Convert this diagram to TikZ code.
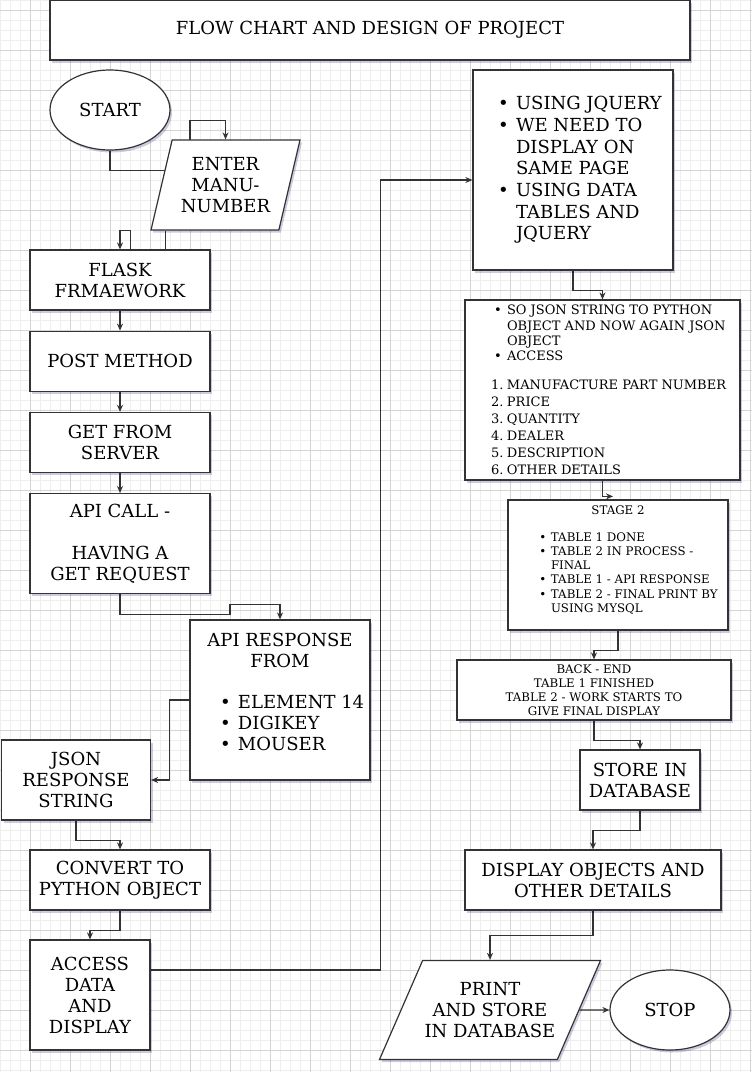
\documentclass[tikz,border=0pt]{standalone}
\usepackage{fontspec}
\setmainfont{DejaVu Serif}
\usepackage{tikz}
\usetikzlibrary{calc}
\usetikzlibrary{arrows.meta}
\usetikzlibrary{positioning}
\usetikzlibrary{shapes.geometric}
\usetikzlibrary{shadows}
\definecolor{chartline}{HTML}{333333}
\definecolor{gridminor}{HTML}{EEEEEE}
\definecolor{gridmajor}{HTML}{D4D4D4}
\pgfdeclarelayer{gridlayer}
\pgfdeclarelayer{edgelayer}
\pgfsetlayers{gridlayer,edgelayer,main}
\newcommand\chartfont{\fontsize{18}{21}\selectfont}
\newcommand\chartfontsmall{\fontsize{13}{17}\selectfont}
\newcommand\chartfonttiny{\fontsize{11.8}{14.2}\selectfont}
\pgfkeys{tikz/chartnode/.style={draw=chartline,line width=1.2pt,fill=white,align=center,inner sep=2pt,font=\chartfont,drop shadow={shadow xshift=2pt,shadow yshift=-2.5pt,opacity=.2,fill=black!60!blue}}}
\pgfkeys{tikz/procbox/.style 2 args={chartnode,rectangle,minimum width=#1,minimum height=#2}}
\pgfkeys{tikz/termnode/.style={chartnode,ellipse,inner sep=0pt,minimum width=120pt,minimum height=80pt}}
\pgfkeys{tikz/iobox/.style n args={4}{chartnode,trapezium,trapezium left angle=#1,trapezium right angle=#2,trapezium stretches body,minimum width=#3,minimum height=#4}}
\pgfkeys{tikz/flowline/.style={draw=chartline,line width=1.2pt,->}}
% list lines: block width, indent, text
\newcommand*\listline[3]{\makebox[#1][l]{\makebox[#2][r]{\textbullet\hspace{.4em}}#3}}
\newcommand*\listmore[3]{\makebox[#1][l]{\hspace*{#2}#3}}
\newcommand*\listnum[4]{\makebox[#1][l]{\makebox[#2][l]{#3}#4}}

\begin{document}
\begin{tikzpicture}[x=1pt,y=-1pt,>={Stealth[length=7pt,width=6pt]}]
    \useasboundingbox (0,0) rectangle (752,1072);
    \begin{pgfonlayer}{gridlayer}
        \fill[white] (0,0) rectangle (752,1072);
        \foreach \gx in {0,10,...,750} \draw[gridminor,line width=.6pt] (\gx,0) -- (\gx,1072);
        \foreach \gy in {0,10,...,1070} \draw[gridminor,line width=.6pt] (0,\gy) -- (752,\gy);
        \foreach \gx in {30,70,...,750} \draw[gridmajor,line width=.7pt] (\gx,0) -- (\gx,1072);
        \foreach \gy in {10,50,...,1050} \draw[gridmajor,line width=.7pt] (0,\gy) -- (752,\gy);
    \end{pgfonlayer}

    \node[procbox={640pt}{60pt}] (title) at (370,30) {FLOW CHART AND DESIGN OF PROJECT};
    \node[termnode] (start) at (110,110) {START};
    \node[iobox={70.4}{109.6}{149pt}{90pt}] (enter) at (225.5,185) {ENTER\\MANU-\\NUMBER};
    \node[procbox={180pt}{60pt}] (flask) at (120,280) {FLASK\\FRMAEWORK};
    \node[procbox={180pt}{60pt},below=20pt of flask] (post) {POST METHOD};
    \node[procbox={180pt}{60pt},below=20pt of post] (getsrv) {GET FROM\\SERVER};
    \node[procbox={180pt}{100pt},below=20pt of getsrv] (apicall) {API CALL -\\[21pt]HAVING A\\GET REQUEST};
    \node[procbox={180pt}{160pt}] (apiresp) at (280,700) {API RESPONSE\\FROM\\[20pt]
        \listline{116pt}{16pt}{ELEMENT 14}\\
        \listline{116pt}{16pt}{DIGIKEY}\\
        \listline{116pt}{16pt}{MOUSER}\\[-5pt]\mbox{}};
    \node[procbox={149pt}{80pt}] (json) at (76,780) {JSON\\RESPONSE\\STRING};
    \node[procbox={180pt}{60pt}] (convert) at (120,880) {CONVERT TO\\PYTHON OBJECT};
    \node[procbox={120pt}{110pt}] (access) at (90,995) {ACCESS\\DATA\\AND\\DISPLAY};

    \node[procbox={200pt}{200pt},font=\fontsize{18}{21.7}\selectfont] (jquery) at (573,170) {%
        \listline{150pt}{18pt}{USING JQUERY}\\
        \listline{150pt}{18pt}{WE NEED TO}\\
        \listmore{150pt}{18pt}{DISPLAY ON}\\
        \listmore{150pt}{18pt}{SAME PAGE}\\
        \listline{150pt}{18pt}{USING DATA}\\
        \listmore{150pt}{18pt}{TABLES AND}\\
        \listmore{150pt}{18pt}{JQUERY}};
    \node[procbox={275pt}{180pt},font=\chartfontsmall] (sojson) at (602.5,390) {%
        \listline{223pt}{16pt}{SO JSON STRING TO PYTHON}\\[-1.7pt]
        \listmore{223pt}{16pt}{OBJECT AND NOW AGAIN JSON}\\[-1.7pt]
        \listmore{223pt}{16pt}{OBJECT}\\[-1.7pt]
        \listline{223pt}{16pt}{ACCESS}\\[12pt]
        \listnum{223pt}{16pt}{1.}{MANUFACTURE PART NUMBER}\\
        \listnum{223pt}{16pt}{2.}{PRICE}\\
        \listnum{223pt}{16pt}{3.}{QUANTITY}\\
        \listnum{223pt}{16pt}{4.}{DEALER}\\
        \listnum{223pt}{16pt}{5.}{DESCRIPTION}\\
        \listnum{223pt}{16pt}{6.}{OTHER DETAILS}};
    \node[procbox={220pt}{130pt},font=\chartfonttiny] (stage2) at (618,565) {STAGE 2\\[13pt]
        \listline{158pt}{12pt}{TABLE 1 DONE}\\
        \listline{158pt}{12pt}{TABLE 2 IN PROCESS -}\\
        \listmore{158pt}{12pt}{FINAL}\\
        \listline{158pt}{12pt}{TABLE 1 - API RESPONSE}\\
        \listline{158pt}{12pt}{TABLE 2 - FINAL PRINT BY}\\
        \listmore{158pt}{12pt}{USING MYSQL}\\[-2pt]\mbox{}};
    \node[procbox={274pt}{60pt},font=\chartfonttiny] (backend) at (594,690) {BACK - END\\TABLE 1 FINISHED\\TABLE 2 - WORK STARTS TO\\GIVE FINAL DISPLAY};
    \node[procbox={120pt}{60pt}] (store) at (640,780) {STORE IN\\DATABASE};
    \node[procbox={256pt}{60pt}] (display) at (593,880) {DISPLAY OBJECTS AND\\OTHER DETAILS};
    \node[iobox={54}{126}{220pt}{99pt}] (print) at (490,1010) {PRINT\\AND STORE\\IN DATABASE};
    \node[termnode] (stop) at (670,1010) {STOP};

    \begin{pgfonlayer}{edgelayer}
        \draw[flowline] (start.south) -- ++(0,20) -- ++(80,0) -- ++(0,-50) -| (enter.north);
        \draw[flowline] ([xshift=-60pt]enter.south) -- ++(0,30) -- ++(-35,0) -- ++(0,-30) -| (flask.north);
        \draw[flowline] (flask) -- (post);
        \draw[flowline] (post) -- (getsrv);
        \draw[flowline] (getsrv) -- (apicall);
        \draw[flowline] (apicall.south) -- ++(0,20) -- ++(110,0) -- ++(0,-10) -| (apiresp.north);
        \draw[flowline] (apiresp.west) -- ++(-20,0) |- (json.east);
        \draw[flowline] (json.south) -- ++(0,20) -| (convert.north);
        \draw[flowline] (convert.south) -- ++(0,20) -| (access.north);
        \draw[flowline] ([yshift=25pt]access.east) -- ++(230,0) |- ([yshift=-10pt]jquery.west);
        \draw[flowline] (jquery.south) -- ++(0,20) -| (sojson.north);
        \draw[flowline] (sojson.south) |- ([xshift=-5pt,yshift=3pt]stage2.north);
        \draw[flowline] (stage2.south) -- ++(0,20) -| (backend.north);
        \draw[flowline] (backend.south) -- ++(0,20) -| (store.north);
        \draw[flowline] (store.south) -- ++(0,20) -| (display.north);
        \draw[flowline] (display.south) -- ++(0,25) -| (print.north);
        \draw[flowline] (print.east) -- (stop.west);
    \end{pgfonlayer}
\end{tikzpicture}
\end{document}
